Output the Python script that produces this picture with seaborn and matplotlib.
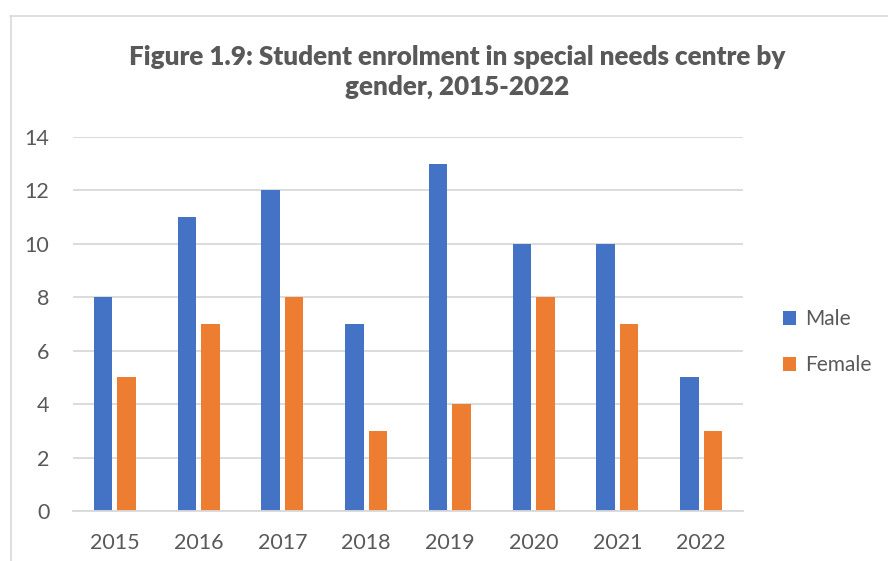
import matplotlib
matplotlib.use("Agg")
import matplotlib.pyplot as plt
from matplotlib.lines import Line2D
from matplotlib.patches import Patch
import seaborn as sns
import pandas as pd

years = ["2015", "2016", "2017", "2018", "2019", "2020", "2021", "2022"]
male = [8, 11, 12, 7, 13, 10, 10, 5]
female = [5, 7, 8, 3, 4, 8, 7, 3]
series = ["Male", "Female"]
colors = ["#4472C4", "#ED7D31"]
title = "Figure 1.9: Student enrolment in special needs centre by\ngender, 2015-2022"

df = pd.DataFrame({
    "Year": years * 2,
    "Enrolment": male + female,
    "Gender": [series[0]] * len(years) + [series[1]] * len(years),
})

sns.set_theme(style="white")
plt.rcParams["font.family"] = ["Lato", "DejaVu Sans"]
text_color = "#595959"
grid_color = "#D9D9D9"

fig = plt.figure(figsize=(8.88, 5.61), dpi=100)
ax = fig.add_axes([73 / 888, 50 / 561, 670 / 888, 374 / 561])

sns.barplot(data=df, x="Year", y="Enrolment", hue="Gender", palette=colors,
            width=0.56, gap=0.21, ax=ax, legend=False, saturation=1,
            edgecolor="none")

ax.set_ylim(0, 14)
ax.set_xlim(-0.5, len(years) - 0.5)
ax.set_yticks(range(0, 15, 2))
ax.yaxis.grid(True, color=grid_color, linewidth=1.3)
ax.set_axisbelow(True)
for side in ["top", "right", "left"]:
    ax.spines[side].set_visible(False)
ax.spines["bottom"].set_color(grid_color)
ax.spines["bottom"].set_linewidth(1.3)
ax.set_xlabel("")
ax.set_ylabel("")
ax.tick_params(axis="both", length=0, labelsize=15.5, colors=text_color)
ax.tick_params(axis="y", pad=17)
ax.tick_params(axis="x", pad=16)

fig.text(457 / 888, 1 - 72 / 561, title, ha="center", va="center",
         fontsize=18.7, fontweight="heavy", color=text_color, linespacing=1.25)

handles = [Patch(facecolor=c, edgecolor="none") for c in colors]
leg = fig.legend(handles, series, loc="center left",
                 bbox_to_anchor=(764 / 888, 1 - 342 / 561), frameon=False,
                 fontsize=15, handlelength=0.65, handleheight=0.65,
                 handletextpad=0.4, labelspacing=1.25)
for t in leg.get_texts():
    t.set_color(text_color)

# chart frame
frame = "#D9D9D9"
fig.add_artist(Line2D([10.5 / 888, 10.5 / 888], [0, 1 - 16 / 561],
                      transform=fig.transFigure, color=frame, linewidth=1.2))
fig.add_artist(Line2D([10 / 888, 1], [1 - 16 / 561, 1 - 16 / 561],
                      transform=fig.transFigure, color=frame, linewidth=1.2))

fig.savefig("out.png", dpi=100)
